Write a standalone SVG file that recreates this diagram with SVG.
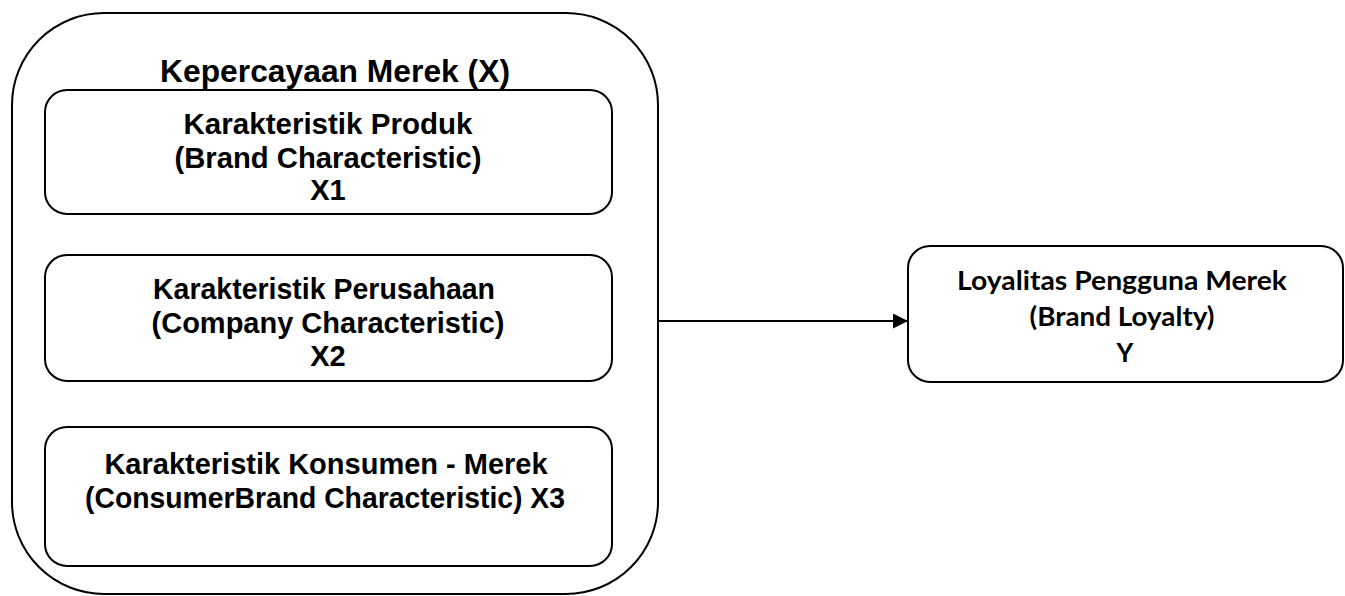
<svg xmlns="http://www.w3.org/2000/svg" width="1345" height="596" viewBox="0 0 1345 596">
<style>
.box{fill:#fff;stroke:#000;stroke-width:2}
.t{font-family:"Liberation Sans",Arial,sans-serif;font-weight:bold;fill:#000;text-anchor:middle}
.t29{font-size:29px}
.t31{font-size:31px}
.c{font-family:Lato,"Open Sans",sans-serif;font-weight:bold;font-size:26px;fill:#000;text-anchor:middle}
.conn{stroke:#000;stroke-width:2;fill:none}
</style>
<defs>
<marker id="arr" markerWidth="15" markerHeight="15" refX="15" refY="7.5" orient="auto" markerUnits="userSpaceOnUse">
<path d="M0,0 L15,7.5 L0,15 Z" fill="#000"/>
</marker>
</defs>
<g id="outer">
<rect class="box" x="12" y="13" width="646" height="581" rx="92" ry="92"/>
<text class="t t31" x="335" y="82" textLength="350" lengthAdjust="spacingAndGlyphs">Kepercayaan Merek (X)</text>
</g>
<g id="x1">
<rect class="box" x="45" y="90" width="567" height="124" rx="22" ry="22"/>
<text class="t t29" x="328" y="134" textLength="289" lengthAdjust="spacingAndGlyphs">Karakteristik Produk</text>
<text class="t t29" x="328" y="168" textLength="307" lengthAdjust="spacingAndGlyphs">(Brand Characteristic)</text>
<text class="t t29" x="328" y="200">X1</text>
</g>
<g id="x2">
<rect class="box" x="45" y="255" width="567" height="126" rx="22" ry="22"/>
<text class="t t29" x="324" y="299" textLength="342" lengthAdjust="spacingAndGlyphs">Karakteristik Perusahaan</text>
<text class="t t29" x="328" y="333">(Company Characteristic)</text>
<text class="t t29" x="328" y="366">X2</text>
</g>
<g id="x3">
<rect class="box" x="45" y="427" width="567" height="139" rx="22" ry="22"/>
<text class="t t29" x="326" y="474">Karakteristik Konsumen - Merek</text>
<text class="t t29" x="325" y="508" textLength="480" lengthAdjust="spacingAndGlyphs">(ConsumerBrand Characteristic) X3</text>
</g>
<g id="y">
<rect class="box" x="908" y="246" width="435" height="136" rx="22" ry="22"/>
<text class="c" x="1122" y="290" textLength="330" lengthAdjust="spacingAndGlyphs">Loyalitas Pengguna Merek</text>
<text class="c" x="1122" y="326" textLength="185" lengthAdjust="spacingAndGlyphs">(Brand Loyalty)</text>
<text class="c" x="1125" y="362">Y</text>
</g>
<g id="connectors">
<line class="conn" x1="658" y1="321" x2="908" y2="321" marker-end="url(#arr)"/>
</g>
</svg>
